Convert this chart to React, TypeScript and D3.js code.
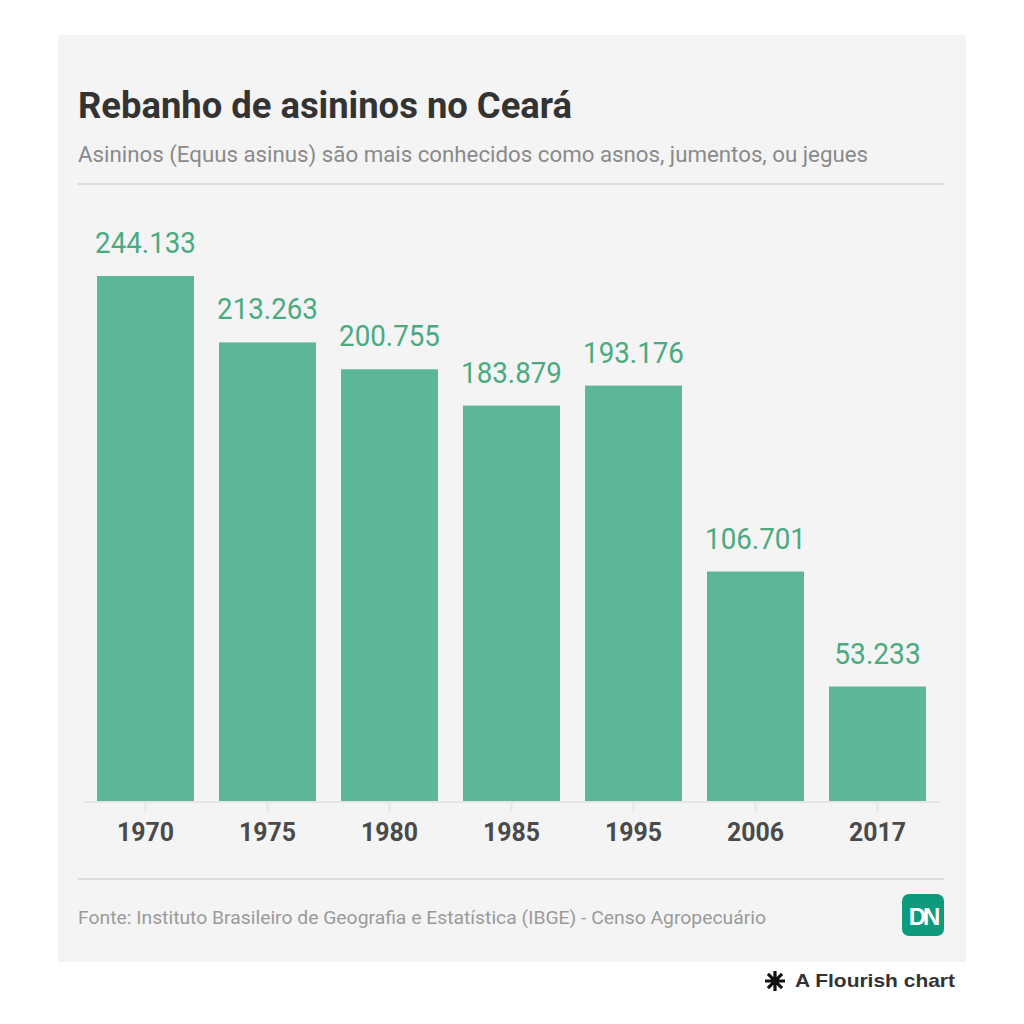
import * as d3 from "d3";

const years = ["1970", "1975", "1980", "1985", "1995", "2006", "2017"];
const heads = [244133, 213263, 200755, 183879, 193176, 106701, 53233];

const title = "Rebanho de asininos no Ceará";
const subtitle = "Asininos (Equus asinus) são mais conhecidos como asnos, jumentos, ou jegues";
const source = "Fonte: Instituto Brasileiro de Geografia e Estatística (IBGE) - Censo Agropecuário";

const W = 1024;
const H = 1024;
const base = 801;

export default function App() {
    const x = d3.scaleBand<string>()
        .domain(years)
        .range([84.5, 938.5])
        .paddingInner(0.205)
        .paddingOuter(0.1025);
    const y = d3.scaleLinear()
        .domain([0, d3.max(heads) as number])
        .range([base, 276]);
    const fmt = d3.formatLocale({ decimal: ",", thousands: ".", grouping: [3], currency: ["R$", ""] }).format(",d");

    const font = "Roboto, 'Noto Sans', sans-serif";
    // asterisk of the Flourish badge
    const star = d3.range(4).map(i => {
        const a = (i * Math.PI) / 4;
        return `M${-10 * Math.cos(a)},${-10 * Math.sin(a)}L${10 * Math.cos(a)},${10 * Math.sin(a)}`;
    }).join("");

    return (
        <svg width={W} height={H} style={{ position: "absolute", left: 0, top: 0, background: "#fff" }} fontFamily={font}>
            <rect x={58} y={35} width={908} height={927} fill="#f4f4f4" />
            <text x={78} y={118} fontSize={37} fontWeight={700} fill="#333" textLength={494} lengthAdjust="spacingAndGlyphs">{title}</text>
            <text x={78} y={162} fontSize={21.5} fill="#8a8a8a" textLength={790} lengthAdjust="spacingAndGlyphs">{subtitle}</text>
            <line x1={78} x2={944} y1={184} y2={184} stroke="#dcdcdc" strokeWidth={2} />

            <line x1={83} x2={940} y1={base + 1} y2={base + 1} stroke="#e6e6e6" strokeWidth={2} />
            {years.map((yr, i) => {
                const bx = x(yr) as number;
                const cx = bx + x.bandwidth() / 2;
                const label = fmt(heads[i]);
                return (
                    <g key={yr}>
                        <line x1={cx} x2={cx} y1={base} y2={base + 11} stroke="#e6e6e6" strokeWidth={2} />
                        <rect x={bx} y={y(heads[i])} width={x.bandwidth()} height={base - y(heads[i])} fill="#5bb795" />
                        <text x={cx} y={y(heads[i]) - 23} textAnchor="middle" fontSize={29} fill="#4aaa80"
                            textLength={label.length * 14.4} lengthAdjust="spacingAndGlyphs">{label}</text>
                        <text x={cx} y={841} textAnchor="middle" fontSize={26} fontWeight={700} fill="#4a4a4a" textLength={57} lengthAdjust="spacingAndGlyphs">{yr}</text>
                    </g>
                );
            })}

            <line x1={78} x2={944} y1={879} y2={879} stroke="#dcdcdc" strokeWidth={2} />
            <text x={78} y={924} fontSize={18.5} fill="#9a9a9a" textLength={688} lengthAdjust="spacingAndGlyphs">{source}</text>
            <rect x={902} y={894} width={42} height={42} rx={7} fill="#0d9b7c" />
            <text x={923} y={925} textAnchor="middle" fontSize={24} fontWeight={900} fill="#fff" fontFamily="'Liberation Sans', Arial, sans-serif" letterSpacing={-3}>DN</text>

            <path d={star} transform="translate(775,981)" stroke="#111" strokeWidth={3.2} />
            <text x={795} y={987} fontSize={19} fontWeight={700} fill="#333" fontFamily="'Liberation Sans', Arial, sans-serif" textLength={160} lengthAdjust="spacingAndGlyphs">A Flourish chart</text>
        </svg>
    );
}
